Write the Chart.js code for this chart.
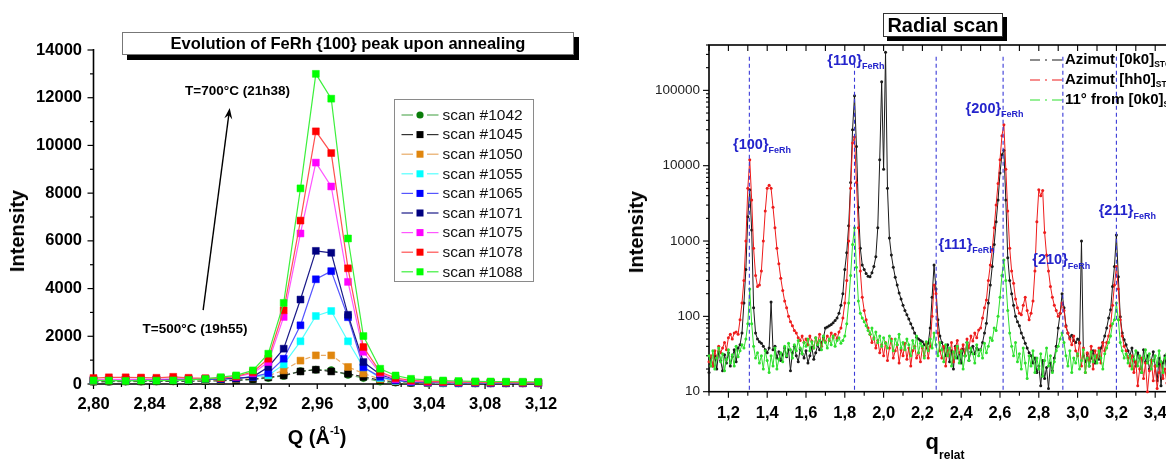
<!DOCTYPE html>
<html><head><meta charset="utf-8">
<script src="https://cdn.jsdelivr.net/npm/chart.js@4.4.1/dist/chart.umd.min.js"></script>
<style>
html,body{margin:0;padding:0;background:#fff;overflow:hidden;width:1166px;height:459px;}
body{position:relative;font-family:"Liberation Sans",Arial,sans-serif;}
#w1{position:absolute;left:0;top:0;width:600px;height:459px;}
#w2{position:absolute;left:620px;top:0;width:580px;height:459px;}
.t{position:absolute;white-space:nowrap;font-weight:bold;color:#000;line-height:1;}
.box{position:absolute;box-sizing:border-box;background:#fff;text-align:center;font-weight:bold;white-space:nowrap;}
sub,sup{line-height:0;}
</style></head>
<body>
<div id="w1"><canvas id="c1" width="600" height="459"></canvas></div>
<div id="w2"><canvas id="c2" width="580" height="459"></canvas></div>
<div class="box" style="left:122px;top:32px;width:452px;height:23px;border:1px solid #777;box-shadow:5px 5px 0 #000;font-size:16.5px;line-height:21px;">Evolution of FeRh {100} peak upon annealing</div>
<div class="box" style="left:883px;top:13px;width:120px;height:24px;border:1px solid #333;box-shadow:4px 4px 0 #000;font-size:20px;line-height:22px;">Radial scan</div>
<div class="t" style="left:17px;top:231px;font-size:20px;transform:translate(-50%,-50%) rotate(-90deg);">Intensity</div>
<div class="t" style="left:317px;top:437px;font-size:20px;transform:translate(-50%,-50%);">Q (Å<sup style="font-size:11px;position:relative;top:-2px;">-1</sup>)</div>
<div class="t" style="left:636px;top:232px;font-size:20px;transform:translate(-50%,-50%) rotate(-90deg);">Intensity</div>
<div class="t" style="left:945px;top:442px;font-size:22px;transform:translate(-50%,-50%);">q<sub style="font-size:12px;position:relative;top:5px;">relat</sub></div>
<script>
// ---------- Left chart data ----------
const qLeft = [2.800, 2.811, 2.823, 2.834, 2.845, 2.857, 2.868, 2.880, 2.891, 2.902, 2.914, 2.925, 2.936, 2.948, 2.959, 2.970, 2.982, 2.993, 3.005, 3.016, 3.027, 3.039, 3.050, 3.061, 3.073, 3.084, 3.095, 3.107, 3.118];
const scanNames = ['scan #1042','scan #1045','scan #1050','scan #1055','scan #1065','scan #1071','scan #1075','scan #1078','scan #1088'];
const scan1042 = [90, 95, 100, 100, 105, 110, 115, 120, 130, 150, 190, 250, 340, 540, 600, 580, 380, 250, 100, 60, 40, 30, 30, 30, 25, 25, 25, 25, 25];
const scan1045 = [100, 105, 110, 110, 115, 120, 125, 130, 140, 160, 200, 280, 360, 525, 600, 525, 430, 300, 150, 80, 50, 40, 35, 30, 30, 30, 30, 30, 30];
const scan1050 = [130, 140, 140, 145, 150, 150, 160, 170, 180, 210, 280, 350, 570, 980, 1200, 1200, 715, 440, 200, 110, 70, 50, 40, 40, 40, 35, 35, 35, 35];
const scan1055 = [150, 160, 160, 165, 170, 175, 180, 190, 200, 240, 300, 360, 820, 1790, 2850, 3060, 1790, 700, 250, 130, 80, 60, 50, 45, 45, 40, 40, 40, 40];
const scan1065 = [160, 165, 170, 170, 175, 180, 190, 200, 210, 250, 300, 455, 1060, 2460, 4390, 4730, 2800, 700, 300, 150, 90, 70, 60, 50, 50, 45, 45, 45, 45];
const scan1071 = [170, 175, 180, 180, 185, 190, 200, 210, 210, 230, 300, 715, 1480, 3540, 5580, 5500, 2900, 920, 400, 180, 100, 80, 70, 60, 55, 50, 50, 50, 50];
const scan1075 = [180, 190, 190, 200, 200, 210, 220, 230, 250, 300, 450, 920, 2810, 6310, 9280, 8280, 4280, 1350, 450, 200, 120, 90, 80, 70, 65, 60, 60, 55, 55];
const scan1078 = [250, 280, 280, 270, 260, 300, 260, 240, 250, 320, 500, 1060, 3090, 6850, 10590, 9680, 4850, 1550, 500, 250, 150, 110, 90, 80, 75, 70, 65, 60, 60];
const scan1088 = [150, 145, 130, 145, 140, 150, 175, 215, 285, 360, 570, 1270, 3400, 8200, 13000, 11960, 6100, 2010, 640, 357, 218, 175, 147, 125, 110, 105, 100, 95, 90];
const leftXTicks = [2.80, 2.84, 2.88, 2.92, 2.96, 3.00, 3.04, 3.08, 3.12];
const leftXMinor = [2.82, 2.86, 2.90, 2.94, 2.98, 3.02, 3.06, 3.10];
const leftYTicks = [0, 2000, 4000, 6000, 8000, 10000, 12000, 14000];
const leftYMinor = [1000, 3000, 5000, 7000, 9000, 11000, 13000];
const annoText = ['T=700°C (21h38)', 'T=500°C (19h55)'];
const annoQ = [2.8655, 2.8351];
const annoI = [12280, 2305];
const arrowQ = [2.8784, 2.8974];
const arrowI = [3100, 11570];

// ---------- Right chart data ----------
const qRight = [
1.10,1.11,1.12,1.13,1.14,1.15,1.16,1.17,1.18,1.19,
1.20,1.21,1.22,1.23,1.24,1.25,1.26,1.27,1.28,1.29,
1.30,1.31,1.32,1.33,1.34,1.35,1.36,1.37,1.38,1.39,
1.40,1.41,1.42,1.43,1.44,1.45,1.46,1.47,1.48,1.49,
1.50,1.51,1.52,1.53,1.54,1.55,1.56,1.57,1.58,1.59,
1.60,1.61,1.62,1.63,1.64,1.65,1.66,1.67,1.68,1.69,
1.70,1.71,1.72,1.73,1.74,1.75,1.76,1.77,1.78,1.79,
1.80,1.81,1.82,1.83,1.84,1.85,1.86,1.87,1.88,1.89,
1.90,1.91,1.92,1.93,1.94,1.95,1.96,1.97,1.98,1.99,
2.00,2.01,2.02,2.03,2.04,2.05,2.06,2.07,2.08,2.09,
2.10,2.11,2.12,2.13,2.14,2.15,2.16,2.17,2.18,2.19,
2.20,2.21,2.22,2.23,2.24,2.25,2.26,2.27,2.28,2.29,
2.30,2.31,2.32,2.33,2.34,2.35,2.36,2.37,2.38,2.39,
2.40,2.41,2.42,2.43,2.44,2.45,2.46,2.47,2.48,2.49,
2.50,2.51,2.52,2.53,2.54,2.55,2.56,2.57,2.58,2.59,
2.60,2.61,2.62,2.63,2.64,2.65,2.66,2.67,2.68,2.69,
2.70,2.71,2.72,2.73,2.74,2.75,2.76,2.77,2.78,2.79,
2.80,2.81,2.82,2.83,2.84,2.85,2.86,2.87,2.88,2.89,
2.90,2.91,2.92,2.93,2.94,2.95,2.96,2.97,2.98,2.99,
3.00,3.01,3.02,3.03,3.04,3.05,3.06,3.07,3.08,3.09,
3.10,3.11,3.12,3.13,3.14,3.15,3.16,3.17,3.18,3.19,
3.20,3.21,3.22,3.23,3.24,3.25,3.26,3.27,3.28,3.29,
3.30,3.31,3.32,3.33,3.34,3.35,3.36,3.37,3.38,3.39,
3.40,3.41,3.42,3.43,3.44,3.45,3.46,3.47,3.48,3.49,
3.50];
const azimut0k0 = [
18,28,22,30,20,34,26,19,31,24,
33,22,29,36,25,38,42,60,150,420,
2100,4800,1400,130,60,50,46,44,40,36,
33,38,155,36,40,28,34,26,31,38,
29,36,19,33,40,30,25,37,32,28,
35,24,30,39,27,33,41,36,45,52,
70,72,75,78,82,88,95,110,140,200,
420,700,1600,6000,30000,85000,18000,2800,800,480,
420,370,340,335,380,460,620,1500,12000,130000,
9000,320000,5000,1100,650,450,330,260,205,170,
140,120,105,92,80,70,60,53,50,48,
46,42,38,44,70,180,480,230,90,55,
45,38,30,42,25,35,20,40,28,33,
24,37,30,45,26,34,40,32,38,36,
36,45,60,81,150,260,460,900,1800,3500,
8000,14000,16000,3500,600,300,200,140,100,85,
75,60,52,44,38,33,30,24,28,18,
22,12,26,15,21,11,24,19,28,40,
70,110,200,130,75,60,52,56,48,45,
50,44,1000,30,25,32,22,28,35,24,
30,27,38,45,55,70,95,122,250,460,
1200,335,99,60,49,42,35,30,38,26,
22,33,28,18,36,25,30,20,26,34,
22,14,28,12,24,30,18,26,20,16,
22];
const azimutHh0 = [
25,30,22,35,28,40,33,38,45,36,
52,58,50,60,62,58,90,150,300,1000,
5000,12000,3500,800,350,250,260,400,1000,2500,
5000,5500,5000,2800,1500,800,500,320,220,160,
130,100,85,75,65,60,52,48,55,45,
50,42,55,47,38,52,44,58,40,50,
46,55,48,60,52,58,50,62,70,95,
150,300,1000,5000,20000,24000,6000,1500,400,180,
120,90,70,58,45,52,38,48,33,42,
30,45,26,38,50,28,35,42,24,36,
30,44,27,38,22,35,40,28,33,25,
38,30,45,28,40,100,260,200,60,35,
28,40,22,35,30,45,25,38,48,33,
36,42,30,50,38,55,47,60,52,66,
70,95,130,165,300,480,760,1500,3000,5800,
12000,25000,35000,9000,2500,800,400,275,170,130,
110,105,140,180,120,90,110,160,400,1800,
4800,4000,4700,1300,650,400,250,180,140,120,
100,110,150,120,73,60,50,42,55,35,
30,45,22,38,18,33,26,40,20,35,
28,38,24,45,35,45,55,75,140,260,
460,230,90,55,40,35,28,22,30,18,
25,12,20,28,15,24,10,19,26,14,
22,11,18,25,15,20,13,24,17,12,
20];
const from0k0_11deg = [
30,22,35,20,28,38,25,32,19,27,
36,24,31,22,40,29,35,42,38,50,
80,230,80,40,28,33,24,30,20,35,
26,18,30,22,38,20,27,33,25,40,
30,44,36,28,42,35,48,38,32,45,
40,50,35,46,38,52,42,48,36,55,
45,38,50,42,55,40,48,52,44,48,
55,80,150,350,900,1500,450,160,110,95,
85,75,65,58,70,50,62,45,55,40,
52,44,38,55,47,35,50,42,58,38,
45,36,50,42,30,48,38,55,33,44,
40,28,46,35,50,38,60,42,30,45,
36,25,42,30,38,22,34,28,40,24,
35,20,30,45,26,38,32,24,42,30,
36,28,44,33,40,52,48,70,65,100,
180,350,560,300,120,60,40,30,45,25,
32,20,38,24,15,30,22,35,18,28,
20,32,16,26,38,22,30,18,25,35,
40,50,60,45,30,22,35,18,28,24,
32,20,26,36,18,28,22,34,25,30,
24,35,28,20,32,38,45,55,80,90,
150,90,45,35,28,32,24,30,20,27,
35,22,30,18,28,36,24,32,20,26,
30,22,35,25,18,28,32,20,26,24,
22];
const rightNames = ['Azimut [0k0]', 'Azimut [hh0]', '11° from [0k0]'];
const rightXTicks = [1.2, 1.4, 1.6, 1.8, 2.0, 2.2, 2.4, 2.6, 2.8, 3.0, 3.2, 3.4];
const rightXMinor = [1.1, 1.3, 1.5, 1.7, 1.9, 2.1, 2.3, 2.5, 2.7, 2.9, 3.1, 3.3, 3.5];
const rightYTicks = [10, 100, 1000, 10000, 100000];
const rightYMinor = [20,30,40,50,60,70,80,90,200,300,400,500,600,700,800,900,2000,3000,4000,5000,6000,7000,8000,9000,20000,30000,40000,50000,60000,70000,80000,90000,200000,300000,400000];
const peakQ = [1.308, 1.850, 2.271, 2.616, 2.924, 3.200];
const peakLineTopI = 280000;
const peakNames = ['{100}', '{110}', '{111}', '{200}', '{210}', '{211}'];
const peakLabelQ = [1.224, 1.710, 2.2825, 2.4227, 2.7665, 3.1088];
const peakLabelI = [18900, 249000, 887, 56800, 553, 2510];

// ---------- helpers ----------
const FAM = '"Liberation Sans", Arial, sans-serif';
function seg(ctx, x1, y1, x2, y2){ ctx.beginPath(); ctx.moveTo(x1, y1); ctx.lineTo(x2, y2); ctx.stroke(); }
function rich(ctx, x, y, parts){
  let cx = x;
  parts.forEach(p => {
    ctx.font = (p.bold ? 'bold ' : '') + p.size + 'px ' + FAM;
    ctx.fillText(p.t, cx, y + (p.dy || 0));
    cx += ctx.measureText(p.t).width;
  });
}

// ---------- Left chart ----------
const leftSeries = [scan1042, scan1045, scan1050, scan1055, scan1065, scan1071, scan1075, scan1078, scan1088];
const markerColors = ['#0a7d0a', '#000000', '#e0860e', '#00ffff', '#0000ff', '#000080', '#ff00ff', '#ff0000', '#00ff00'];
const lineColors = ['#5cae5c', '#333333', '#e8aa66', '#55ffff', '#5555ff', '#1a1a88', '#ff55ff', '#ff5050', '#3cf03c'];

const leftDecor = {
  id: 'leftDecor',
  beforeDatasetsDraw(chart){
    const {ctx, chartArea: a, scales: {x, y}} = chart;
    ctx.save();
    ctx.strokeStyle = '#000'; ctx.lineWidth = 1.6;
    ctx.beginPath(); ctx.moveTo(a.left, a.top - 1); ctx.lineTo(a.left, a.bottom); ctx.lineTo(a.right, a.bottom); ctx.stroke();
    ctx.lineWidth = 1.2;
    leftYTicks.forEach(v => { const p = y.getPixelForValue(v); seg(ctx, a.left - 6, p, a.left, p); });
    leftYMinor.forEach(v => { const p = y.getPixelForValue(v); seg(ctx, a.left - 3.5, p, a.left, p); });
    leftXTicks.forEach(v => { const p = x.getPixelForValue(v); seg(ctx, p, a.bottom, p, a.bottom + 5); });
    leftXMinor.forEach(v => { const p = x.getPixelForValue(v); seg(ctx, p, a.bottom, p, a.bottom + 3); });
    ctx.restore();
  },
  afterDatasetsDraw(chart){
    const {ctx, scales: {x, y}} = chart;
    ctx.save();
    ctx.fillStyle = '#000'; ctx.textBaseline = 'middle'; ctx.textAlign = 'left';
    ctx.font = 'bold 13.5px ' + FAM;
    annoText.forEach((t, i) => ctx.fillText(t, x.getPixelForValue(annoQ[i]), y.getPixelForValue(annoI[i])));
    const x0 = x.getPixelForValue(arrowQ[0]), y0 = y.getPixelForValue(arrowI[0]);
    const x1 = x.getPixelForValue(arrowQ[1]), y1 = y.getPixelForValue(arrowI[1]);
    const ang = Math.atan2(y1 - y0, x1 - x0);
    ctx.strokeStyle = '#000'; ctx.lineWidth = 1.4;
    seg(ctx, x0, y0, x1 - 6 * Math.cos(ang), y1 - 6 * Math.sin(ang));
    ctx.beginPath();
    ctx.moveTo(x1, y1);
    ctx.lineTo(x1 - 11 * Math.cos(ang) + 4 * Math.sin(ang), y1 - 11 * Math.sin(ang) - 4 * Math.cos(ang));
    ctx.lineTo(x1 - 7 * Math.cos(ang), y1 - 7 * Math.sin(ang));
    ctx.lineTo(x1 - 11 * Math.cos(ang) - 4 * Math.sin(ang), y1 - 11 * Math.sin(ang) + 4 * Math.cos(ang));
    ctx.closePath(); ctx.fill();
    const bx = 394, by = 99, bw = 139, bh = 182;
    ctx.fillStyle = '#fff'; ctx.fillRect(bx, by, bw, bh);
    ctx.strokeStyle = '#8a8a8a'; ctx.lineWidth = 1; ctx.strokeRect(bx + 0.5, by + 0.5, bw, bh);
    ctx.font = '15.5px ' + FAM;
    scanNames.forEach((n, i) => {
      const ry = 115 + i * 19.6;
      ctx.strokeStyle = lineColors[i]; ctx.lineWidth = 1.2;
      seg(ctx, 401.5, ry, 413, ry); seg(ctx, 427, ry, 438.5, ry);
      ctx.fillStyle = markerColors[i];
      if (i === 0) { ctx.beginPath(); ctx.arc(420, ry, 3.6, 0, Math.PI * 2); ctx.fill(); }
      else ctx.fillRect(416.5, ry - 3.5, 7, 7);
      ctx.fillStyle = '#111';
      ctx.fillText(n, 442.5, ry + 0.5);
    });
    ctx.restore();
  }
};

new Chart(document.getElementById('c1'), {
  type: 'line',
  data: {
    datasets: leftSeries.map((vals, i) => ({
      label: scanNames[i],
      data: vals.map((v, j) => ({x: qLeft[j], y: v})),
      borderColor: lineColors[i],
      backgroundColor: markerColors[i],
      pointBackgroundColor: markerColors[i],
      pointBorderColor: markerColors[i],
      pointBorderWidth: 0.5,
      pointStyle: i === 0 ? 'circle' : 'rect',
      pointRadius: i === 0 ? 3.6 : 4.9,
      borderWidth: 1.2,
      borderDash: i < 3 ? [5, 3] : [],
      tension: 0,
      fill: false,
      clip: false,
      order: 9 - i
    }))
  },
  options: {
    responsive: false, animation: false, events: [],
    layout: {padding: {left: 0, right: 59, top: 50, bottom: 0}},
    plugins: {legend: {display: false}, tooltip: {enabled: false}},
    scales: {
      x: {
        type: 'linear', min: 2.80, max: 3.12,
        afterFit: s => { s.height = 75; },
        afterBuildTicks: s => { s.ticks = leftXTicks.map(v => ({value: v})); },
        grid: {display: false, drawTicks: false}, border: {display: false},
        ticks: {padding: 11, color: '#000', maxRotation: 0, autoSkip: false,
          font: {family: FAM, size: 16.5, weight: 'bold'},
          callback: v => Number(v).toFixed(2).replace('.', ',')}
      },
      y: {
        type: 'linear', min: 0, max: 14000,
        afterFit: s => { s.width = 93.5; },
        afterBuildTicks: s => { s.ticks = leftYTicks.map(v => ({value: v})); },
        grid: {display: false, drawTicks: false}, border: {display: false},
        ticks: {padding: 11.5, color: '#000', autoSkip: false,
          font: {family: FAM, size: 16.5, weight: 'bold'},
          callback: v => String(v)}
      }
    }
  },
  plugins: [leftDecor]
});

// ---------- Right chart ----------
const rightSeries = [azimut0k0, azimutHh0, from0k0_11deg];
const rightColors = ['#1a1a1a', '#ee1c1c', '#2ee02e'];

const rightDecor = {
  id: 'rightDecor',
  beforeDatasetsDraw(chart){
    const {ctx, chartArea: a, scales: {x, y}} = chart;
    ctx.save();
    ctx.strokeStyle = '#000'; ctx.lineWidth = 1.6;
    ctx.strokeRect(a.left, a.top, a.right - a.left, a.bottom - a.top);
    ctx.lineWidth = 1.1;
    rightYTicks.forEach(v => { const p = y.getPixelForValue(v); seg(ctx, a.left - 6, p, a.left, p); });
    rightYMinor.forEach(v => { const p = y.getPixelForValue(v); seg(ctx, a.left - 3, p, a.left, p); });
    rightXTicks.forEach(v => { const p = x.getPixelForValue(v); seg(ctx, p, a.bottom, p, a.bottom + 6); seg(ctx, p, a.top, p, a.top + 6); });
    rightXMinor.forEach(v => { const p = x.getPixelForValue(v); seg(ctx, p, a.bottom, p, a.bottom + 4); seg(ctx, p, a.top, p, a.top + 6); });
    ctx.restore();
  },
  afterDatasetsDraw(chart){
    const {ctx, chartArea: a, scales: {x, y}} = chart;
    ctx.save();
    ctx.strokeStyle = '#3a3ad8'; ctx.lineWidth = 1.1; ctx.setLineDash([4, 3]);
    const yTop = y.getPixelForValue(peakLineTopI);
    peakQ.forEach(q => { const p = x.getPixelForValue(q); seg(ctx, p, yTop, p, a.bottom); });
    ctx.setLineDash([]);
    ctx.fillStyle = '#2424cc'; ctx.textBaseline = 'middle'; ctx.textAlign = 'left';
    peakNames.forEach((n, i) => {
      rich(ctx, x.getPixelForValue(peakLabelQ[i]), y.getPixelForValue(peakLabelI[i]),
        [{t: n, size: 14.5, bold: true}, {t: 'FeRh', size: 9, bold: true, dy: 6}]);
    });
    rightNames.forEach((n, i) => {
      const ry = 60 + i * 20;
      ctx.strokeStyle = rightColors[i]; ctx.lineWidth = 1.2;
      ctx.setLineDash([10, 5, 2, 5, 10, 100]);
      seg(ctx, 410, ry, 442, ry);
      ctx.setLineDash([]);
      ctx.fillStyle = '#000';
      rich(ctx, 445, ry, [{t: n, size: 15, bold: true}, {t: 'STO', size: 8.5, bold: true, dy: 5}]);
    });
    ctx.restore();
  }
};

new Chart(document.getElementById('c2'), {
  type: 'line',
  data: {
    datasets: rightSeries.map((vals, i) => ({
      label: rightNames[i],
      data: vals.map((v, j) => ({x: qRight[j], y: v})),
      borderColor: rightColors[i],
      backgroundColor: rightColors[i],
      pointBackgroundColor: rightColors[i],
      pointBorderWidth: 0,
      pointRadius: 1.5,
      borderWidth: 1,
      tension: 0,
      fill: false,
      clip: false,
      order: 3 - i
    }))
  },
  options: {
    responsive: false, animation: false, events: [],
    layout: {padding: {left: 0, right: 25.4, top: 45, bottom: 0}},
    plugins: {legend: {display: false}, tooltip: {enabled: false}},
    scales: {
      x: {
        type: 'linear', min: 1.1, max: 3.5,
        afterFit: s => { s.height = 67.3; },
        afterBuildTicks: s => { s.ticks = rightXTicks.map(v => ({value: v})); },
        grid: {display: false, drawTicks: false}, border: {display: false},
        ticks: {padding: 12, color: '#000', maxRotation: 0, autoSkip: false,
          font: {family: FAM, size: 16.5, weight: 'bold'},
          callback: v => Number(v).toFixed(1).replace('.', ',')}
      },
      y: {
        type: 'logarithmic', min: 10, max: 400000,
        afterFit: s => { s.width = 89; },
        afterBuildTicks: s => { s.ticks = rightYTicks.map(v => ({value: v})); },
        grid: {display: false, drawTicks: false}, border: {display: false},
        ticks: {padding: 9, color: '#222', autoSkip: false,
          font: {family: FAM, size: 13.5},
          callback: v => String(v)}
      }
    }
  },
  plugins: [rightDecor]
});
</script>
</body></html>
